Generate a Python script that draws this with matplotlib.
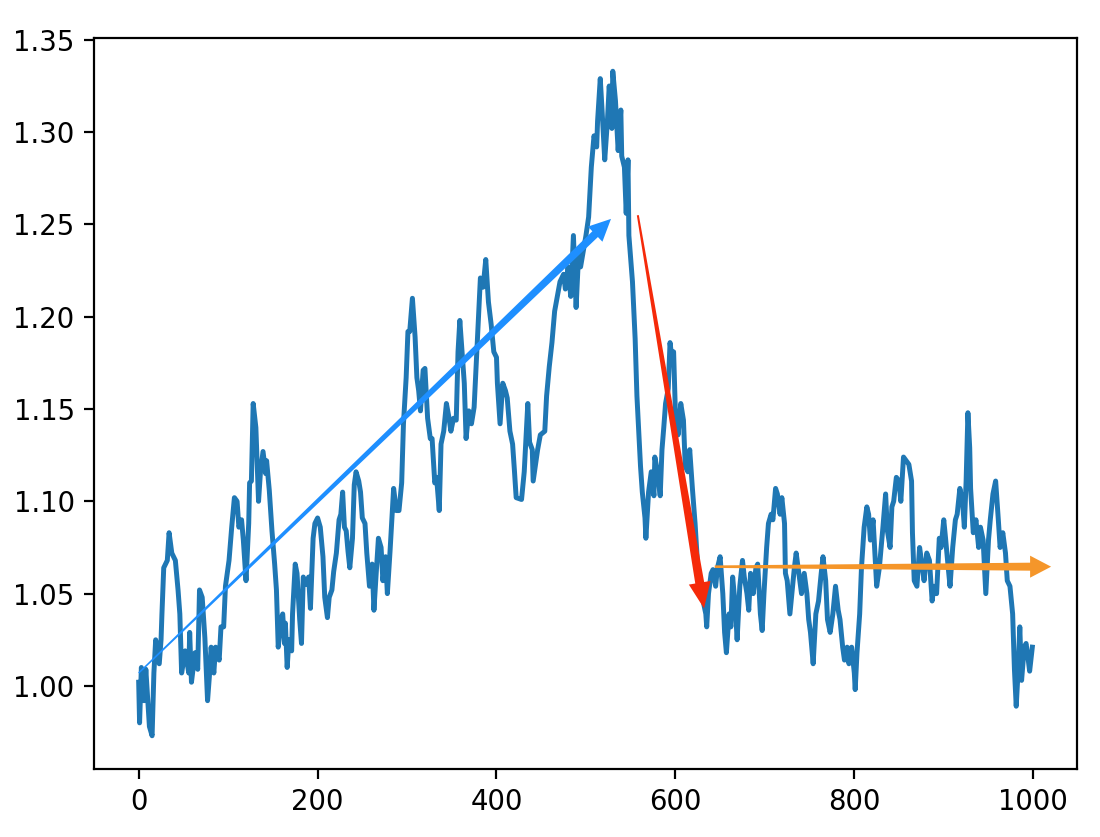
import matplotlib
matplotlib.use("Agg")
import matplotlib.pyplot as plt
import numpy as np
from matplotlib.patches import Polygon

# Random-walk style price series.
step = [
    0, 1, 3, 6, 8, 12, 15, 17, 19, 23, 25, 26, 28, 32, 34, 37, 41, 44, 46, 48,
    52, 56, 57, 59, 63, 66, 68, 71, 74, 77, 79, 81, 84, 86, 90, 92, 95, 97, 101, 104,
    107, 110, 112, 115, 117, 120, 123, 124, 126, 128, 131, 134, 136, 139, 142, 143, 146, 149, 152, 154,
    156, 159, 161, 163, 164, 166, 168, 171, 172, 175, 177, 180, 182, 184, 187, 190, 192, 195, 197, 200,
    203, 206, 208, 211, 213, 216, 218, 221, 224, 226, 228, 230, 232, 234, 236, 239, 241, 243, 246, 248,
    250, 253, 255, 258, 261, 263, 265, 268, 271, 273, 276, 278, 281, 285, 288, 291, 294, 296, 299, 301,
    303, 306, 309, 311, 313, 315, 318, 320, 323, 326, 328, 331, 333, 336, 338, 341, 344, 347, 349, 352,
    355, 357, 359, 362, 364, 366, 369, 372, 375, 378, 380, 382, 385, 388, 391, 394, 397, 400, 401, 404,
    407, 410, 412, 415, 418, 420, 422, 428, 431, 435, 437, 440, 441, 446, 449, 454, 456, 459, 462, 465,
    468, 471, 475, 477, 480, 483, 486, 489, 492, 494, 500, 503, 506, 509, 512, 513, 516, 518, 521, 524,
    526, 529, 530, 533, 536, 539, 540, 543, 545, 547, 548, 552, 555, 557, 561, 563, 566, 567, 570, 573,
    576, 577, 580, 583, 585, 587, 589, 592, 594, 596, 598, 600, 603, 606, 609, 611, 614, 616, 619, 622,
    625, 628, 631, 634, 635, 637, 640, 642, 645, 647, 650, 653, 655, 657, 660, 662, 664, 667, 669, 672,
    675, 677, 680, 682, 684, 687, 690, 692, 695, 697, 699, 702, 704, 707, 709, 712, 714, 717, 719, 722,
    723, 725, 728, 731, 733, 735, 738, 741, 744, 747, 749, 751, 754, 757, 760, 763, 765, 768, 770, 773,
    776, 779, 782, 784, 787, 789, 792, 794, 797, 800, 801, 803, 806, 808, 811, 814, 816, 818, 821, 823,
    825, 828, 832, 835, 837, 840, 842, 844, 847, 850, 852, 855, 858, 861, 864, 865, 867, 870, 873, 875,
    878, 881, 884, 887, 889, 892, 895, 897, 900, 902, 905, 907, 910, 913, 915, 918, 921, 923, 925, 927,
    929, 930, 933, 936, 939, 941, 944, 947, 950, 952, 955, 958, 961, 963, 966, 969, 971, 974, 977, 979,
    981, 983, 985, 987, 990, 992, 994, 996, 999,
]
price = [
    1.002, 0.980, 1.010, 0.992, 1.009, 0.978, 0.973, 1.007, 1.025, 1.012, 1.025, 1.039, 1.064, 1.068, 1.083, 1.072, 1.068, 1.052, 1.039, 1.007,
    1.019, 1.007, 1.029, 1.002, 1.018, 1.009, 1.052, 1.048, 1.026, 0.992, 1.005, 1.021, 1.007, 1.021, 1.014, 1.032, 1.032, 1.054, 1.068, 1.086,
    1.102, 1.100, 1.086, 1.090, 1.079, 1.057, 1.088, 1.110, 1.111, 1.153, 1.140, 1.100, 1.115, 1.127, 1.115, 1.122, 1.106, 1.084, 1.066, 1.052,
    1.021, 1.036, 1.039, 1.023, 1.034, 1.010, 1.025, 1.019, 1.039, 1.066, 1.061, 1.036, 1.023, 1.059, 1.055, 1.059, 1.042, 1.080, 1.088, 1.091,
    1.086, 1.070, 1.048, 1.037, 1.048, 1.052, 1.062, 1.072, 1.090, 1.093, 1.105, 1.086, 1.084, 1.073, 1.064, 1.080, 1.109, 1.116, 1.111, 1.105,
    1.091, 1.088, 1.072, 1.054, 1.066, 1.041, 1.057, 1.080, 1.075, 1.057, 1.070, 1.050, 1.073, 1.107, 1.095, 1.095, 1.110, 1.142, 1.167, 1.192,
    1.192, 1.210, 1.189, 1.167, 1.160, 1.149, 1.171, 1.172, 1.145, 1.134, 1.134, 1.110, 1.113, 1.095, 1.131, 1.138, 1.153, 1.145, 1.138, 1.145,
    1.144, 1.181, 1.198, 1.178, 1.164, 1.134, 1.149, 1.142, 1.151, 1.181, 1.200, 1.221, 1.216, 1.231, 1.208, 1.196, 1.181, 1.178, 1.164, 1.142,
    1.164, 1.160, 1.156, 1.138, 1.131, 1.117, 1.102, 1.101, 1.116, 1.153, 1.132, 1.128, 1.111, 1.128, 1.136, 1.138, 1.157, 1.173, 1.186, 1.203,
    1.211, 1.219, 1.223, 1.215, 1.227, 1.211, 1.244, 1.205, 1.236, 1.227, 1.244, 1.254, 1.281, 1.298, 1.292, 1.306, 1.329, 1.312, 1.285, 1.306,
    1.325, 1.302, 1.333, 1.317, 1.290, 1.312, 1.287, 1.281, 1.256, 1.285, 1.244, 1.219, 1.188, 1.157, 1.119, 1.105, 1.091, 1.080, 1.105, 1.116,
    1.103, 1.124, 1.116, 1.103, 1.128, 1.140, 1.153, 1.161, 1.186, 1.178, 1.181, 1.148, 1.136, 1.153, 1.144, 1.119, 1.116, 1.128, 1.107, 1.088,
    1.064, 1.054, 1.046, 1.039, 1.032, 1.050, 1.061, 1.063, 1.054, 1.064, 1.070, 1.050, 1.029, 1.018, 1.039, 1.032, 1.059, 1.043, 1.025, 1.054,
    1.068, 1.059, 1.050, 1.041, 1.061, 1.050, 1.064, 1.066, 1.039, 1.030, 1.050, 1.075, 1.088, 1.093, 1.090, 1.107, 1.104, 1.093, 1.102, 1.088,
    1.061, 1.057, 1.039, 1.054, 1.064, 1.072, 1.061, 1.050, 1.061, 1.050, 1.036, 1.029, 1.012, 1.039, 1.046, 1.061, 1.070, 1.057, 1.036, 1.029,
    1.039, 1.054, 1.041, 1.036, 1.021, 1.014, 1.021, 1.012, 1.021, 1.007, 0.998, 1.018, 1.039, 1.064, 1.086, 1.097, 1.093, 1.079, 1.090, 1.072,
    1.054, 1.064, 1.086, 1.104, 1.084, 1.075, 1.097, 1.100, 1.113, 1.111, 1.100, 1.124, 1.122, 1.120, 1.111, 1.083, 1.057, 1.054, 1.075, 1.068,
    1.057, 1.072, 1.068, 1.046, 1.054, 1.050, 1.080, 1.075, 1.090, 1.080, 1.064, 1.054, 1.075, 1.090, 1.093, 1.107, 1.100, 1.086, 1.111, 1.148,
    1.129, 1.107, 1.083, 1.090, 1.075, 1.086, 1.079, 1.050, 1.079, 1.090, 1.104, 1.111, 1.090, 1.075, 1.083, 1.072, 1.057, 1.054, 1.039, 1.009,
    0.989, 1.007, 1.032, 1.003, 1.021, 1.023, 1.016, 1.008, 1.021,
]

# Trend arrows drawn over the series: (start, tip) in data units.
up_start, up_tip = (0, 1.007), (528, 1.253)
down_start, down_tip = (558, 1.255), (632, 1.042)
flat_start, flat_tip = (644, 1.0646), (1020, 1.0646)

fig = plt.figure(figsize=(1100 / 198, 837 / 198), dpi=198)
ax = fig.add_axes([94 / 1100, 68 / 837, 983 / 1100, 731 / 837])
ax.plot(step, price, color="tab:blue", lw=1.8)
ax.set_xlim(-49.95, 1048.95)
ax.set_ylim(0.955, 1.351)


def trend_arrow(start, tip, color, w0, w1, head_w, head_l):
    # tapered shaft (thin at start, wider at the head) plus a triangular head;
    # sizes are in pixels, so build it in display space and map back to data
    p0 = ax.transData.transform(start)
    p1 = ax.transData.transform(tip)
    u = (p1 - p0) / np.hypot(*(p1 - p0))
    n = np.array([-u[1], u[0]])
    base = p1 - u * head_l
    pts = [
        p0 + n * w0 / 2, base + n * w1 / 2, base + n * head_w / 2, p1,
        base - n * head_w / 2, base - n * w1 / 2, p0 - n * w0 / 2,
    ]
    verts = ax.transData.inverted().transform(pts)
    ax.add_patch(Polygon(verts, closed=True, facecolor=color,
                         edgecolor="none", zorder=3))


trend_arrow(up_start, up_tip, "#1e8fff", 1.5, 8, 21, 22)
trend_arrow(down_start, down_tip, "#f52a0a", 2, 9, 22, 26)
trend_arrow(flat_start, flat_tip, "#f5962a", 2.5, 8, 22, 21)

fig.savefig("out.png", dpi=198)
